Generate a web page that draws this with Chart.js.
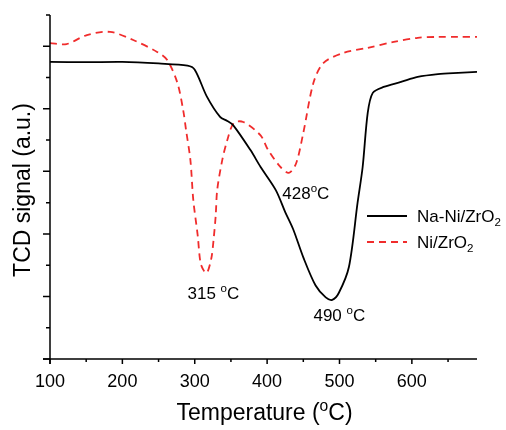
<!DOCTYPE html>
<html>
<head>
<meta charset="utf-8">
<script src="https://cdn.jsdelivr.net/npm/chart.js@4.4.1/dist/chart.umd.min.js"></script>
<style>
    html, body { margin: 0; padding: 0; background: #fff; }
    canvas { display: block; }
</style>
</head>
<body>
<canvas id="tpr" width="506" height="430"></canvas>
<script>
// ===============================
// DATA
// ===============================
const naNiTemp = [100, 150, 200, 250, 290, 300, 317, 335, 345, 353, 377, 391, 412, 425, 436, 450, 467, 481, 490, 499, 513, 525, 532, 539, 546, 561, 585, 608, 636, 664, 690];
const naNiSignal = [9.50, 9.49, 9.50, 9.45, 9.38, 9.25, 8.38, 7.74, 7.61, 7.48, 6.68, 6.14, 5.40, 4.70, 4.15, 3.25, 2.35, 1.97, 1.89, 2.11, 2.94, 5.00, 6.14, 7.87, 8.51, 8.70, 8.86, 9.02, 9.11, 9.15, 9.18];

const niTemp = [100, 123, 151, 183, 215, 248, 262, 276, 284, 288, 294, 298, 304, 308, 313, 317, 323, 326, 329, 331, 338, 345, 354, 367, 391, 401, 418, 430, 440, 450, 464, 478, 506, 539, 575, 608, 636, 664, 690];
const niSignal = [10.10, 10.07, 10.36, 10.46, 10.20, 9.82, 9.56, 8.83, 7.96, 7.32, 6.36, 5.08, 3.97, 3.07, 2.81, 2.75, 3.23, 3.81, 4.60, 5.40, 6.36, 7.00, 7.55, 7.58, 7.15, 6.70, 6.15, 5.95, 6.25, 7.23, 8.83, 9.47, 9.79, 9.95, 10.14, 10.27, 10.30, 10.30, 10.30];

const xTicks = [100, 200, 300, 400, 500, 600];
const xMinorTicks = [150, 250, 350, 450, 550, 650];
const yTicks = [0, 2, 4, 6, 8, 10];
const yMinorTicks = [1, 3, 5, 7, 9, 11];

// peak labels: [temperature, signal, text before "o", text after "o"]
const peakNotes = [
    [290, 2.12, '315 ', 'C'],
    [421, 5.31, '428', 'C'],
    [464, 1.41, '490 ', 'C']
];

const FONT = '"Liberation Sans", Arial, sans-serif';
const RED = '#f02c2c';

function toPoints(xs, ys) {
    return xs.map((x, i) => ({ x: x, y: ys[i] }));
}

// texto con super/subindice
function drawRich(ctx, parts, x, y, size, align) {
    let total = 0;
    parts.forEach(p => {
        ctx.font = (p.s ? size * 0.68 : size) + 'px ' + FONT;
        total += ctx.measureText(p.t).width;
    });
    let cx = align === 'center' ? x - total / 2 : x;
    parts.forEach(p => {
        ctx.font = (p.s ? size * 0.68 : size) + 'px ' + FONT;
        let dy = 0;
        if (p.s === 'sup') dy = -size * 0.38;
        if (p.s === 'sub') dy = size * 0.22;
        ctx.fillText(p.t, cx, y + dy);
        cx += ctx.measureText(p.t).width;
    });
}

// ===============================
// PLUGIN: ejes, ticks, titulos, leyenda, notas
// ===============================
const decorations = {
    id: 'decorations',
    afterDraw(chart) {
        const ctx = chart.ctx;
        const xs = chart.scales.x;
        const ys = chart.scales.y;
        const a = chart.chartArea;
        ctx.save();
        ctx.strokeStyle = '#000';
        ctx.fillStyle = '#000';
        ctx.lineWidth = 1.5;

        // axis lines
        ctx.beginPath();
        ctx.moveTo(a.left, a.top);
        ctx.lineTo(a.left, a.bottom + 5);
        ctx.moveTo(a.left - 7, a.bottom);
        ctx.lineTo(a.right, a.bottom);
        ctx.stroke();

        // tick marks
        ctx.beginPath();
        xTicks.forEach(v => { const p = xs.getPixelForValue(v); ctx.moveTo(p, a.bottom); ctx.lineTo(p, a.bottom + 5); });
        xMinorTicks.forEach(v => { const p = xs.getPixelForValue(v); ctx.moveTo(p, a.bottom); ctx.lineTo(p, a.bottom + 3); });
        yTicks.forEach(v => { const p = ys.getPixelForValue(v); ctx.moveTo(a.left, p); ctx.lineTo(a.left - 7, p); });
        yMinorTicks.forEach(v => { const p = ys.getPixelForValue(v); ctx.moveTo(a.left, p); ctx.lineTo(a.left - 4, p); });
        ctx.stroke();

        // axis titles
        ctx.textBaseline = 'alphabetic';
        drawRich(ctx, [{ t: 'Temperature (' }, { t: 'o', s: 'sup' }, { t: 'C)' }], (a.left + a.right) / 2 + 1, 420, 23, 'center');

        ctx.save();
        ctx.translate(30, (a.top + a.bottom) / 2 + 3);
        ctx.rotate(-Math.PI / 2);
        ctx.font = '23px ' + FONT;
        ctx.textAlign = 'center';
        ctx.fillText('TCD signal (a.u.)', 0, 0);
        ctx.restore();

        // peak notes
        peakNotes.forEach(n => {
            const px = xs.getPixelForValue(n[0]);
            const py = ys.getPixelForValue(n[1]);
            drawRich(ctx, [{ t: n[2] }, { t: 'o', s: 'sup' }, { t: n[3] }], px, py + 6, 17, 'left');
        });

        // legend
        const items = [
            { name: 'Na-Ni/ZrO', color: '#000', dash: [], y: 216 },
            { name: 'Ni/ZrO', color: RED, dash: [7, 5], y: 242 }
        ];
        items.forEach(it => {
            ctx.beginPath();
            ctx.strokeStyle = it.color;
            ctx.lineWidth = 1.8;
            ctx.setLineDash(it.dash);
            ctx.moveTo(367, it.y);
            ctx.lineTo(407, it.y);
            ctx.stroke();
            ctx.setLineDash([]);
            drawRich(ctx, [{ t: it.name }, { t: '2', s: 'sub' }], 417, it.y + 6, 17, 'left');
        });

        ctx.restore();
    }
};

// ===============================
// CHART
// ===============================
new Chart(document.getElementById('tpr'), {
    type: 'line',
    data: {
        datasets: [{
            label: 'Na-Ni/ZrO2',
            data: toPoints(naNiTemp, naNiSignal),
            borderColor: '#000',
            borderWidth: 1.8,
            pointRadius: 0,
            tension: 0.3
        }, {
            label: 'Ni/ZrO2',
            data: toPoints(niTemp, niSignal),
            borderColor: RED,
            borderWidth: 1.8,
            borderDash: [7, 5],
            pointRadius: 0,
            tension: 0.3
        }]
    },
    options: {
        responsive: false,
        animation: false,
        layout: { padding: { top: 15, right: 29, left: 0, bottom: 0 } },
        plugins: { legend: { display: false }, tooltip: { enabled: false } },
        scales: {
            x: {
                type: 'linear',
                min: 100,
                max: 690,
                grid: { display: false, drawTicks: false },
                border: { display: false },
                ticks: {
                    autoSkip: false,
                    maxRotation: 0,
                    padding: 12,
                    color: '#000',
                    font: { size: 18, family: FONT }
                },
                afterBuildTicks(scale) { scale.ticks = xTicks.map(v => ({ value: v })); },
                afterFit(scale) { scale.height = 71; }
            },
            y: {
                type: 'linear',
                min: 0,
                max: 11,
                grid: { display: false, drawTicks: false },
                border: { display: false },
                ticks: { display: false },
                afterFit(scale) { scale.width = 50; }
            }
        }
    },
    plugins: [decorations]
});
</script>
</body>
</html>
